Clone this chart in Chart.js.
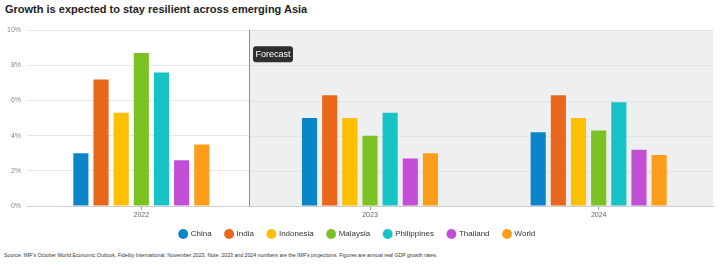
<!DOCTYPE html>
<html>
<head>
<meta charset="utf-8">
<script src="https://cdn.jsdelivr.net/npm/chart.js@4/dist/chart.umd.min.js"></script>
<style>
  html, body { margin: 0; padding: 0; background: #fff; }
  body { width: 720px; height: 265px; position: relative; overflow: hidden; font-family: "Liberation Sans", Arial, sans-serif; }
  #title { position: absolute; left: 5px; top: 3px; font-size: 11px; font-weight: bold; color: #222; }
  #wrap { position: absolute; left: 0; top: 20px; width: 720px; height: 232px; }
  #source { position: absolute; left: 4px; top: 252px; font-size: 6px; color: #333; white-space: nowrap; transform: scaleX(0.87); transform-origin: 0 0; }
</style>
</head>
<body>
<div id="title">Growth is expected to stay resilient across emerging Asia</div>
<div id="wrap"><canvas id="chart"></canvas></div>
<div id="source">Source: IMF's October World Economic Outlook, Fidelity International, November 2023. Note: 2023 and 2024 numbers are the IMF's projections. Figures are annual real GDP growth rates.</div>
<script>
var years = ["2022", "2023", "2024"];
var countries = ["China", "India", "Indonesia", "Malaysia", "Philippines", "Thailand", "World"];
var colors = ["#0a86c8", "#e8671a", "#fdbf00", "#7cc225", "#17c3c5", "#c24ed6", "#ff9c1a"];

var china = [3.0, 5.0, 4.2];
var india = [7.2, 6.3, 6.3];
var indonesia = [5.3, 5.0, 5.0];
var malaysia = [8.7, 4.0, 4.3];
var philippines = [7.6, 5.3, 5.9];
var thailand = [2.6, 2.7, 3.2];
var world = [3.5, 3.0, 2.9];

var yTicks = [0, 2, 4, 6, 8, 10];
var forecastFrom = 0.47; // category index where the forecast band starts

var series = [china, india, indonesia, malaysia, philippines, thailand, world];

// grey band + divider + "Forecast" label
var forecastBand = {
  id: "forecastBand",
  afterLayout: function (chart) {
    // pull the legend a little closer to the axis
    chart.legend.top -= 4;
    chart.legend.bottom -= 4;
  },
  beforeDatasetsDraw: function (chart) {
    var ctx = chart.ctx;
    var area = chart.chartArea;
    var x0 = Math.round(chart.scales.x.getPixelForValue(forecastFrom)) + 0.5;
    ctx.save();
    ctx.fillStyle = "#eeeff1";
    ctx.fillRect(x0, area.top, area.right - x0, area.bottom - area.top);
    // redraw grid lines on top of the band
    ctx.strokeStyle = "#e2e2e2";
    ctx.lineWidth = 1;
    yTicks.forEach(function (v) {
      if (v === 0) return;
      var y = Math.round(chart.scales.y.getPixelForValue(v)) + 0.5;
      ctx.beginPath();
      ctx.moveTo(x0, y);
      ctx.lineTo(area.right, y);
      ctx.stroke();
    });
    ctx.strokeStyle = "#8c8c8c";
    ctx.beginPath();
    ctx.moveTo(x0, area.top);
    ctx.lineTo(x0, area.bottom);
    ctx.stroke();
    ctx.restore();
  },
  afterDatasetsDraw: function (chart) {
    var ctx = chart.ctx;
    var area = chart.chartArea;
    var x0 = Math.round(chart.scales.x.getPixelForValue(forecastFrom));
    var bx = x0 + 4, by = area.top + 16, bw = 40, bh = 16, r = 3;
    ctx.save();
    ctx.fillStyle = "#2e2e2e";
    ctx.beginPath();
    ctx.moveTo(bx + r, by);
    ctx.lineTo(bx + bw - r, by);
    ctx.quadraticCurveTo(bx + bw, by, bx + bw, by + r);
    ctx.lineTo(bx + bw, by + bh - r);
    ctx.quadraticCurveTo(bx + bw, by + bh, bx + bw - r, by + bh);
    ctx.lineTo(bx + r, by + bh);
    ctx.quadraticCurveTo(bx, by + bh, bx, by + bh - r);
    ctx.lineTo(bx, by + r);
    ctx.quadraticCurveTo(bx, by, bx + r, by);
    ctx.fill();
    ctx.fillStyle = "#fff";
    ctx.font = "9px 'Liberation Sans', Arial, sans-serif";
    ctx.textAlign = "center";
    ctx.textBaseline = "middle";
    ctx.fillText("Forecast", bx + bw / 2, by + bh / 2 + 0.5);
    ctx.restore();
  }
};

new Chart(document.getElementById("chart"), {
  type: "bar",
  data: {
    labels: years,
    datasets: countries.map(function (name, i) {
      return {
        label: name,
        data: series[i],
        backgroundColor: colors[i],
        borderWidth: 0,
        categoryPercentage: 0.617,
        barPercentage: 0.75
      };
    })
  },
  options: {
    responsive: true,
    maintainAspectRatio: false,
    animation: false,
    layout: { padding: { left: 2, right: 7, top: 1, bottom: 0 } },
    plugins: {
      legend: {
        position: "bottom",
        labels: {
          usePointStyle: true,
          pointStyle: "circle",
          boxWidth: 7,
          boxHeight: 7,
          padding: 14,
          color: "#333",
          font: { family: "'Liberation Sans', Arial, sans-serif", size: 8 }
        }
      },
      tooltip: { enabled: false }
    },
    scales: {
      x: {
        afterFit: function (axis) { axis.height = 14; },
        grid: { display: true, offset: false, drawOnChartArea: false, drawTicks: true, tickLength: 4, color: "#999" },
        border: { display: true, color: "#cfcfcf" },
        ticks: { color: "#666", font: { family: "'Liberation Sans', Arial, sans-serif", size: 7 }, padding: 1 }
      },
      y: {
        min: 0,
        max: 10,
        afterBuildTicks: function (axis) {
          axis.ticks = yTicks.map(function (v) { return { value: v }; });
        },
        afterFit: function (axis) { axis.width = 25; },
        grid: { color: "#e6e6e6", drawTicks: false },
        border: { display: false },
        ticks: {
          color: "#888",
          padding: 6,
          font: { family: "'Liberation Sans', Arial, sans-serif", size: 7 },
          callback: function (v) { return v + "%"; }
        }
      }
    }
  },
  plugins: [forecastBand]
});
</script>
</body>
</html>
